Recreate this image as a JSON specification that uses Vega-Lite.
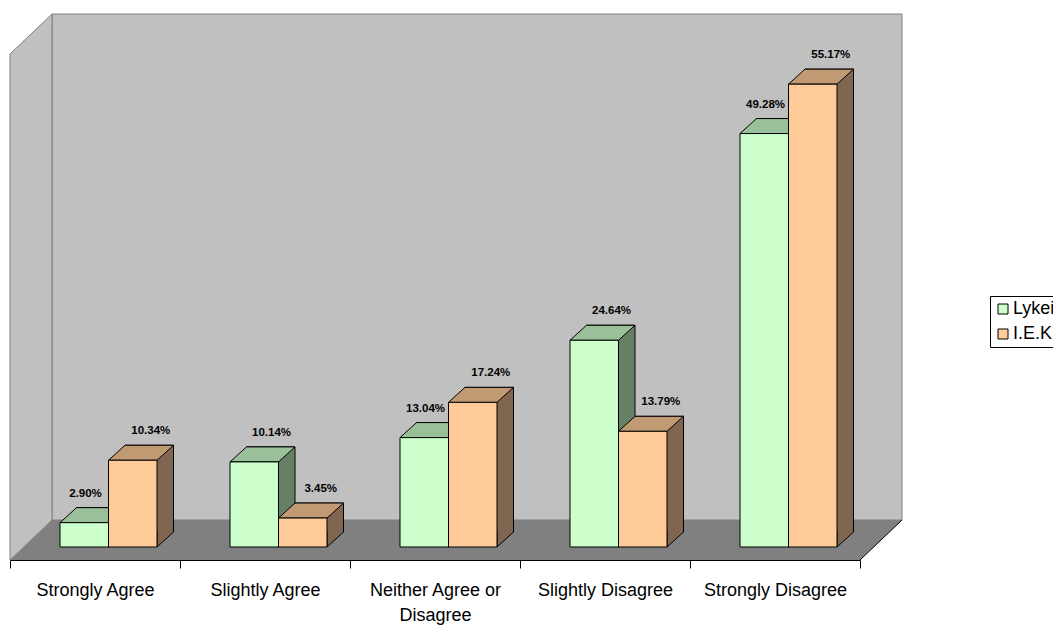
{
  "$schema": "https://vega.github.io/schema/vega-lite/v6.json",
  "width": 892,
  "height": 546,
  "autosize": {"type": "none"},
  "padding": {"left": 10, "top": 14, "right": 151, "bottom": 66},
  "background": "white",
  "config": {
    "view": {"stroke": null},
    "axisX": {
      "tickBand": "extent",
      "labelAngle": 0,
      "grid": false,
      "domainColor": "black",
      "domainWidth": 1,
      "tickColor": "black",
      "tickWidth": 1,
      "tickSize": 8,
      "labelFont": "Liberation Sans",
      "labelFontSize": 18,
      "labelColor": "black",
      "labelBaseline": "alphabetic",
      "labelPadding": 27,
      "labelLineHeight": 25,
      "labelLimit": 0,
      "labelOverlap": false
    }
  },
  "data": {
    "values": [
      {"response": "Strongly Agree", "school": "Lykeio", "share": 0.0290},
      {"response": "Strongly Agree", "school": "I.E.K.", "share": 0.1034},
      {"response": "Slightly Agree", "school": "Lykeio", "share": 0.1014},
      {"response": "Slightly Agree", "school": "I.E.K.", "share": 0.0345},
      {"response": "Neither Agree or Disagree", "school": "Lykeio", "share": 0.1304},
      {"response": "Neither Agree or Disagree", "school": "I.E.K.", "share": 0.1724},
      {"response": "Slightly Disagree", "school": "Lykeio", "share": 0.2464},
      {"response": "Slightly Disagree", "school": "I.E.K.", "share": 0.1379},
      {"response": "Strongly Disagree", "school": "Lykeio", "share": 0.4928},
      {"response": "Strongly Disagree", "school": "I.E.K.", "share": 0.5517}
    ]
  },
  "encoding": {
    "x": {
      "field": "response",
      "type": "nominal",
      "scale": {
        "domain": ["Strongly Agree", "Slightly Agree", "Neither Agree or Disagree", "Slightly Disagree", "Strongly Disagree"],
        "range": [0, 850],
        "paddingInner": 0,
        "paddingOuter": 0
      },
      "axis": {
        "title": null,
        "labelExpr": "datum.value == 'Neither Agree or Disagree' ? ['Neither Agree or', 'Disagree'] : datum.label"
      }
    },
    "y": {
      "field": "share",
      "type": "quantitative",
      "scale": {"domain": [0, 0.6508], "nice": false, "zero": true},
      "axis": null
    }
  },
  "layer": [
    {
      "transform": [{"filter": "datum.response == 'Neither Agree or Disagree' && datum.school == 'Lykeio'"}],
      "mark": {"type": "point", "shape": "M -383 -546 L 467 -546 L 467 -40 L -383 -40 Z", "size": 4, "filled": true, "fill": "#C0C0C0", "stroke": "#808080", "strokeWidth": 1, "opacity": 1},
      "encoding": {"y": {"datum": 0, "type": "quantitative", "axis": null}}
    },
    {
      "transform": [{"filter": "datum.response == 'Neither Agree or Disagree' && datum.school == 'Lykeio'"}],
      "mark": {"type": "point", "shape": "M -383 -40 L -425 0 L 425 0 L 467 -40 Z", "size": 4, "filled": true, "fill": "#808080", "strokeWidth": 0, "opacity": 1},
      "encoding": {"y": {"datum": 0, "type": "quantitative", "axis": null}}
    },
    {
      "transform": [{"filter": "datum.response == 'Neither Agree or Disagree' && datum.school == 'Lykeio'"}],
      "mark": {"type": "point", "shape": "M -425 -506 L -383 -546 L -383 -40 L -425 0 Z", "size": 4, "filled": true, "fill": "#C0C0C0", "stroke": "#808080", "strokeWidth": 1, "opacity": 1},
      "encoding": {"y": {"datum": 0, "type": "quantitative", "axis": null}}
    },
    {
      "transform": [{"filter": "datum.response == 'Neither Agree or Disagree' && datum.school == 'Lykeio'"}],
      "mark": {"type": "point", "shape": "M 425 0 L 467 -40", "size": 4, "filled": false, "stroke": "#000000", "strokeWidth": 1, "opacity": 1},
      "encoding": {"y": {"datum": 0, "type": "quantitative", "axis": null}}
    },
    {
      "transform": [{"filter": "datum.school == 'Lykeio'"}],
      "mark": {"type": "bar", "width": 48.5, "xOffset": 5.75, "yOffset": -28, "fill": "#668066", "stroke": "black", "strokeWidth": 1}
    },
    {
      "transform": [{"filter": "datum.school == 'I.E.K.'"}],
      "mark": {"type": "bar", "width": 48.5, "xOffset": 54.25, "yOffset": -28, "fill": "#806650", "stroke": "black", "strokeWidth": 1}
    },
    {
      "transform": [{"filter": "datum.school == 'Lykeio'"}],
      "mark": {"type": "point", "shape": "M 13.5 -29 L 13.5 -13 L 30 -28 L 30 -29", "size": 4, "filled": true, "fill": "#668066", "stroke": "black", "strokeWidth": 1, "opacity": 1},
      "encoding": {"y": {"datum": 0, "type": "quantitative", "axis": null}}
    },
    {
      "transform": [{"filter": "datum.school == 'I.E.K.'"}],
      "mark": {"type": "point", "shape": "M 62 -29 L 62 -13 L 78.5 -28 L 78.5 -29", "size": 4, "filled": true, "fill": "#806650", "stroke": "black", "strokeWidth": 1, "opacity": 1},
      "encoding": {"y": {"datum": 0, "type": "quantitative", "axis": null}}
    },
    {
      "transform": [{"filter": "datum.school == 'Lykeio'"}],
      "mark": {"type": "point", "shape": "M -35 -13 L 13.5 -13 L 30 -28 L -18.5 -28 Z", "size": 4, "filled": true, "fill": "#99C099", "stroke": "black", "strokeWidth": 1, "opacity": 1}
    },
    {
      "transform": [{"filter": "datum.school == 'I.E.K.'"}],
      "mark": {"type": "point", "shape": "M 13.5 -13 L 62 -13 L 78.5 -28 L 30 -28 Z", "size": 4, "filled": true, "fill": "#C09A73", "stroke": "black", "strokeWidth": 1, "opacity": 1}
    },
    {
      "transform": [{"filter": "datum.school == 'Lykeio'"}],
      "mark": {"type": "bar", "width": 48.5, "xOffset": -10.75, "yOffset": -13, "stroke": "black", "strokeWidth": 1, "opacity": 1},
      "encoding": {
        "color": {
          "field": "school",
          "type": "nominal",
          "scale": {"domain": ["Lykeio", "I.E.K."], "range": ["#CCFFCC", "#FFCC99"]},
          "legend": {
            "title": null, "orient": "none", "legendX": 980, "legendY": 282,
            "symbolType": "square", "symbolSize": 100, "symbolStrokeColor": "black", "symbolStrokeWidth": 1,
            "labelFont": "Liberation Sans", "labelFontSize": 18, "labelColor": "black",
            "labelOffset": 1, "padding": 4, "rowPadding": 7,
            "strokeColor": "black", "fillColor": "white", "cornerRadius": 0
          }
        }
      }
    },
    {
      "transform": [{"filter": "datum.school == 'I.E.K.'"}],
      "mark": {"type": "bar", "width": 48.5, "xOffset": 37.75, "yOffset": -13, "stroke": "black", "strokeWidth": 1, "opacity": 1},
      "encoding": {
        "color": {
          "field": "school",
          "type": "nominal",
          "scale": {"domain": ["Lykeio", "I.E.K."], "range": ["#CCFFCC", "#FFCC99"]},
          "legend": {
            "title": null, "orient": "none", "legendX": 980, "legendY": 282,
            "symbolType": "square", "symbolSize": 100, "symbolStrokeColor": "black", "symbolStrokeWidth": 1,
            "labelFont": "Liberation Sans", "labelFontSize": 18, "labelColor": "black",
            "labelOffset": 1, "padding": 4, "rowPadding": 7,
            "strokeColor": "black", "fillColor": "white", "cornerRadius": 0
          }
        }
      }
    },
    {
      "transform": [
        {"joinaggregate": [{"op": "max", "field": "share", "as": "maxShare"}], "groupby": ["response"]},
        {"filter": "datum.school == 'Lykeio' && datum.share < datum.maxShare"}
      ],
      "mark": {"type": "text", "dx": -9.5, "dy": -39, "baseline": "alphabetic", "align": "center", "font": "Liberation Sans", "fontSize": 11.5, "fontWeight": "bold", "fill": "black"},
      "encoding": {"text": {"field": "share", "type": "quantitative", "format": ".2%"}}
    },
    {
      "transform": [
        {"joinaggregate": [{"op": "max", "field": "share", "as": "maxShare"}], "groupby": ["response"]},
        {"filter": "datum.school == 'Lykeio' && datum.share >= datum.maxShare"}
      ],
      "mark": {"type": "text", "dx": 6.5, "dy": -39, "baseline": "alphabetic", "align": "center", "font": "Liberation Sans", "fontSize": 11.5, "fontWeight": "bold", "fill": "black"},
      "encoding": {"text": {"field": "share", "type": "quantitative", "format": ".2%"}}
    },
    {
      "transform": [{"filter": "datum.school == 'I.E.K.'"}],
      "mark": {"type": "text", "dx": 55.75, "dy": -39, "baseline": "alphabetic", "align": "center", "font": "Liberation Sans", "fontSize": 11.5, "fontWeight": "bold", "fill": "black"},
      "encoding": {"text": {"field": "share", "type": "quantitative", "format": ".2%"}}
    }
  ]
}
